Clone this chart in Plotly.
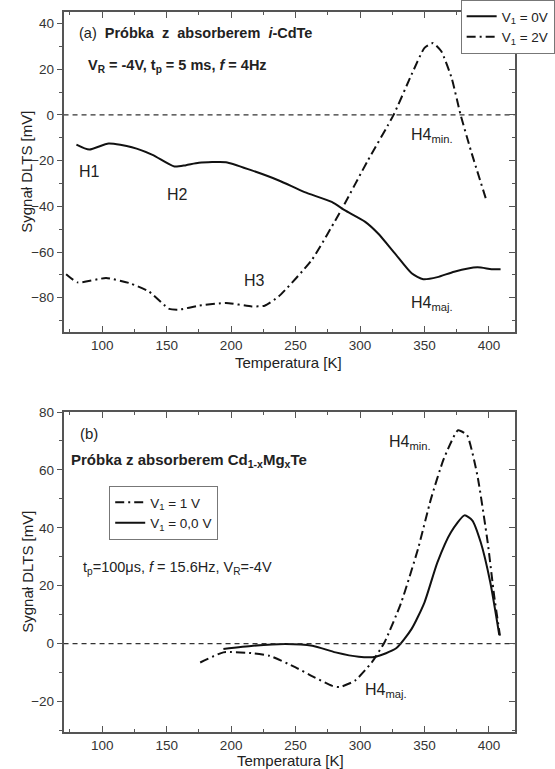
import plotly.graph_objects as go

# ---- data: panel (a) ----
Ta_0V = [80, 90, 105, 123, 139, 156, 165, 175, 196, 216, 237, 257, 278, 288, 304, 314, 327, 340, 349, 360, 373, 391, 402, 409]
Sa_0V = [-13, -15.2, -12.5, -14.2, -17.5, -22.6, -22, -21, -20.7, -24.3, -28.7, -33.8, -38.1, -41.7, -46.8, -51.9, -60.6, -69.3, -71.9, -71, -68.6, -66.7, -67.5, -67.5]
Ta_2V = [72, 81, 103, 121, 136, 152, 159.5, 175, 196, 216, 226, 237, 262.5, 286, 306, 326, 340, 350, 356.6, 363, 371, 378, 386, 398]
Sa_2V = [-69.7, -73.3, -71.4, -73.6, -77.2, -84.9, -85.2, -83.5, -82.3, -83.8, -83.5, -79.4, -63.5, -41, -20, 0, 17.7, 29.3, 31.4, 27.8, 16.2, 0, -15.7, -37.4]

# ---- data: panel (b) ----
Tb_1V = [176, 194, 217, 230, 250, 265, 278, 284, 296, 309, 319, 332, 345, 355, 365, 376, 383, 391, 399, 404, 408.5]
Sb_1V = [-6.5, -3, -3.3, -4.2, -8.2, -11.7, -14.5, -15, -12.8, -6.5, 0.5, 14.3, 32.8, 50, 63.9, 73.7, 72, 58.1, 35, 16.6, 2.8]
Tb_0V = [194, 217, 242, 263, 281, 299, 312, 328, 340, 350, 360, 370.5, 381, 387, 393.6, 401, 408]
Sb_0V = [-1.8, -0.7, -0.1, -0.7, -3, -4.5, -4.5, -1.6, 5.1, 14.3, 28.1, 38.5, 44.3, 42.6, 35, 21.2, 3]

x_range = [70, 420]
x_ticks = [100, 150, 200, 250, 300, 350, 400]
x_minor = [75, 125, 175, 225, 275, 325, 375, 425]
ya_range = [-95, 45]
yb_range = [-30.5, 80]
ya_ticks = [-80, -60, -40, -20, 0, 20, 40]
ya_minor = [-90, -70, -50, -30, -10, 10, 30]
yb_ticks = [-20, 0, 20, 40, 60, 80]
yb_minor = [-30, -10, 10, 30, 50, 70]

W, H = 555, 769
FONT = "Arial, Liberation Sans, sans-serif"
AX = "#555555"
DASHDOT = "9px,4px,2px,4px"

fig = go.Figure()

# zero lines (drawn on the right-hand overlay axes so those axes render)
fig.add_trace(go.Scatter(x=x_range, y=[0, 0], mode="lines", xaxis="x", yaxis="y3",
                         line=dict(color="#333", width=1.3, dash="5px,4px"), showlegend=False, hoverinfo="skip"))
fig.add_trace(go.Scatter(x=x_range, y=[0, 0], mode="lines", xaxis="x2", yaxis="y4",
                         line=dict(color="#333", width=1.3, dash="5px,4px"), showlegend=False, hoverinfo="skip"))

fig.add_trace(go.Scatter(x=Ta_0V, y=Sa_0V, mode="lines", name="V<sub>1</sub> = 0V", xaxis="x", yaxis="y",
                         line=dict(color="#111", width=2, shape="spline", smoothing=0.6), legend="legend"))
fig.add_trace(go.Scatter(x=Ta_2V, y=Sa_2V, mode="lines", name="V<sub>1</sub> = 2V", xaxis="x", yaxis="y",
                         line=dict(color="#111", width=2, dash=DASHDOT, shape="spline", smoothing=0.5), legend="legend"))

fig.add_trace(go.Scatter(x=Tb_1V, y=Sb_1V, mode="lines", name="V<sub>1</sub> = 1 V", xaxis="x2", yaxis="y2",
                         line=dict(color="#111", width=2, dash=DASHDOT, shape="spline", smoothing=0.5), legend="legend2"))
fig.add_trace(go.Scatter(x=Tb_0V, y=Sb_0V, mode="lines", name="V<sub>1</sub> = 0,0 V", xaxis="x2", yaxis="y2",
                         line=dict(color="#111", width=2, shape="spline", smoothing=0.6), legend="legend2"))

xd = [64 / W, 518.5 / W]
ya_dom = [(H - 332) / H, (H - 12) / H]
yb_dom = [(H - 732) / H, (H - 412) / H]

tickfont = dict(family=FONT, size=13.5, color="#333")

def xax(domain, anchor):
    return dict(domain=domain, anchor=anchor, range=x_range, tickvals=x_ticks, automargin=False,
                ticks="inside", ticklen=6, tickwidth=1.2, tickcolor=AX, showline=True, linecolor=AX, linewidth=1.5,
                mirror="ticks", showgrid=False, zeroline=False, tickfont=tickfont,
                minor=dict(tickvals=x_minor, ticks="inside", ticklen=3, tickcolor=AX))

def yax(domain, anchor, rng, vals, minors):
    return dict(domain=domain, anchor=anchor, range=rng, tickvals=vals, ticks="outside", ticklen=5,
                tickwidth=1.2, tickcolor=AX, showline=True, linecolor=AX, linewidth=1.5, mirror=True,
                showgrid=False, zeroline=False, tickfont=tickfont, automargin=False,
                minor=dict(tickvals=minors, ticks="outside", ticklen=3, tickcolor=AX))

def yright(over, anchor, rng, vals, minors):
    return dict(overlaying=over, anchor=anchor, side="right", range=rng, showticklabels=False,
                tickvals=vals, ticks="inside", ticklen=6, tickcolor=AX, tickwidth=1.2, automargin=False,
                minor=dict(tickvals=minors, ticks="inside", ticklen=3, tickcolor=AX),
                showgrid=False, zeroline=False, showline=True, linecolor=AX, linewidth=1.5)

fig.update_layout(
    width=W, height=H, margin=dict(l=0, r=0, t=0, b=0),
    paper_bgcolor="white", plot_bgcolor="white",
    font=dict(family=FONT, color="#222"),
    xaxis=xax(xd, "y"),
    yaxis=yax(ya_dom, "x", ya_range, ya_ticks, ya_minor),
    xaxis2=xax(xd, "y2"),
    yaxis2=yax(yb_dom, "x2", yb_range, yb_ticks, yb_minor),
    yaxis3=yright("y", "x", ya_range, ya_ticks, ya_minor),
    yaxis4=yright("y2", "x2", yb_range, yb_ticks, yb_minor),
    legend=dict(x=464 / W, y=1.0, xanchor="left", yanchor="top", bordercolor="#777", borderwidth=1,
                bgcolor="white", font=dict(family=FONT, size=13.5, color="#222"), tracegroupgap=0,
                itemwidth=30),
    legend2=dict(x=110 / W, y=(H - 486) / H, xanchor="left", yanchor="top", bordercolor="#777", borderwidth=1,
                 bgcolor="white", font=dict(family=FONT, size=13.5, color="#222"), tracegroupgap=0,
                 itemwidth=30),
)

def ann(text, x, y, size=14, angle=0, xanchor="left"):
    fig.add_annotation(text=text, x=x / W, y=(H - y) / H, xref="paper", yref="paper", showarrow=False,
                       xanchor=xanchor, yanchor="middle", textangle=angle,
                       font=dict(family=FONT, size=size, color="#222"))

# axis titles
ann("Sygnał DLTS [mV]", 27, 172, 15, -90, "center")
ann("Sygnał DLTS [mV]", 27, 572, 15, -90, "center")
ann("Temperatura [K]", 291, 362, 15, 0, "center")
ann("Temperatura [K]", 293, 760, 15, 0, "center")

# panel (a) texts
ann("(a)  <b>Próbka  z  absorberem  <i>i</i>-CdTe</b>", 78, 33, 14.5)
ann("<b>V<sub>R</sub> = -4V, t<sub>p</sub> = 5 ms, <i>f</i> = 4Hz</b>", 87, 66, 14.5)
ann("H1", 78, 172, 16)
ann("H2", 166, 194, 16)
ann("H3", 244, 280, 16)
ann("H4<sub>min.</sub>", 412, 135, 16)
ann("H4<sub>maj.</sub>", 412, 304, 16)

# panel (b) texts
ann("(b)", 79, 433, 15)
ann("<b>Próbka z absorberem Cd<sub>1-x</sub>Mg<sub>x</sub>Te</b>", 70, 461, 15)
ann("t<sub>p</sub>=100μs, <i>f</i> = 15.6Hz, V<sub>R</sub>=-4V", 82, 568, 14.5)
ann("H4<sub>min.</sub>", 390, 442, 16)
ann("H4<sub>maj.</sub>", 366, 690, 16)

fig.write_html("out.html")
